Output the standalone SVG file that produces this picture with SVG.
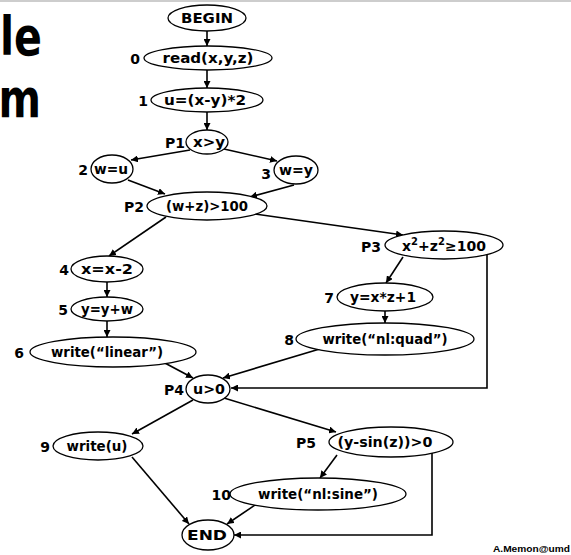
<svg xmlns="http://www.w3.org/2000/svg" width="571" height="555" viewBox="0 0 571 555">
  <defs>
    <marker id="arrow" viewBox="0 0 10 10" refX="10" refY="5" markerWidth="7" markerHeight="7" markerUnits="userSpaceOnUse" orient="auto">
      <path d="M0,0 L10,5 L0,10 z" fill="#000"/>
    </marker>
    <style>
      .node ellipse { fill: #fff; stroke: #000; stroke-width: 1.3; }
      .t { font-family: "DejaVu Sans", "Liberation Sans", sans-serif; font-weight: bold; font-size: 14px; fill: #000; text-anchor: middle; }
      .lbl { font-family: "DejaVu Sans", "Liberation Sans", sans-serif; font-weight: bold; font-size: 14px; fill: #000; text-anchor: end; }
      .title { font-family: "DejaVu Sans", "Liberation Sans", sans-serif; font-weight: bold; font-size: 54px; fill: #000; text-anchor: end; }
      #edges line, #edges polyline { stroke: #000; stroke-width: 1.6; fill: none; marker-end: url(#arrow); }
    </style>
  </defs>

  <rect width="571" height="555" fill="#fff"/>
  <line x1="0" y1="1" x2="571" y2="1" stroke="#bdbdbd" stroke-width="1.5"/>

  <!-- slide title fragments -->
  <text class="title" x="42" y="55" textLength="42" lengthAdjust="spacingAndGlyphs">le</text>
  <text class="title" x="41" y="117" textLength="70" lengthAdjust="spacingAndGlyphs">am</text>

  <!-- connectors -->
  <g id="edges">
    <line x1="207" y1="31" x2="207" y2="46"/>
    <line x1="207" y1="70" x2="207" y2="88"/>
    <line x1="207" y1="112" x2="207" y2="130"/>
    <line x1="190" y1="150" x2="131" y2="160"/>
    <line x1="224" y1="149" x2="277" y2="161"/>
    <line x1="128" y1="180" x2="165" y2="194"/>
    <line x1="294" y1="185" x2="250" y2="197"/>
    <line x1="255" y1="214" x2="403" y2="235"/>
    <line x1="166" y1="217" x2="109" y2="256"/>
    <line x1="107" y1="282" x2="107" y2="297"/>
    <line x1="107" y1="321" x2="107" y2="337"/>
    <line x1="403" y1="257" x2="386" y2="283"/>
    <line x1="385" y1="311" x2="385" y2="323"/>
    <polyline points="487,255 487,388 231,388"/>
    <line x1="163" y1="362" x2="193" y2="378"/>
    <line x1="323" y1="348" x2="223" y2="378"/>
    <line x1="193" y1="400" x2="132" y2="434"/>
    <line x1="224" y1="398" x2="336" y2="432"/>
    <line x1="337" y1="455" x2="320" y2="478"/>
    <polyline points="432,453 432,535 234,535"/>
    <line x1="132" y1="457" x2="189" y2="524"/>
    <line x1="258" y1="503" x2="227" y2="524"/>
  </g>

  <g id="begin" class="node">
    <ellipse cx="207" cy="18" rx="39" ry="13"/>
    <text class="t" x="207" y="23" textLength="52" lengthAdjust="spacingAndGlyphs">BEGIN</text>
  </g>
  <g id="n0" class="node">
    <ellipse cx="208" cy="58" rx="64" ry="12"/>
    <text class="lbl" x="140" y="64">0</text>
    <text class="t" x="208" y="63" textLength="91" lengthAdjust="spacingAndGlyphs">read(x,y,z)</text>
  </g>
  <g id="n1" class="node">
    <ellipse cx="207" cy="100" rx="56" ry="12"/>
    <text class="lbl" x="148" y="106">1</text>
    <text class="t" x="205" y="105" textLength="82" lengthAdjust="spacingAndGlyphs">u=(x-y)*2</text>
  </g>
  <g id="p1" class="node">
    <ellipse cx="207" cy="142" rx="21" ry="12"/>
    <text class="lbl" x="185" y="148">P1</text>
    <text class="t" x="209" y="147" textLength="32" lengthAdjust="spacingAndGlyphs">x&gt;y</text>
  </g>
  <g id="n2" class="node">
    <ellipse cx="112" cy="169" rx="21" ry="14"/>
    <text class="lbl" x="88" y="175">2</text>
    <text class="t" x="111" y="174" textLength="34" lengthAdjust="spacingAndGlyphs">w=u</text>
  </g>
  <g id="n3" class="node">
    <ellipse cx="296" cy="170" rx="22" ry="14"/>
    <text class="lbl" x="271" y="179">3</text>
    <text class="t" x="296" y="175" textLength="34" lengthAdjust="spacingAndGlyphs">w=y</text>
  </g>
  <g id="p2" class="node">
    <ellipse cx="207" cy="206" rx="60" ry="14"/>
    <text class="lbl" x="144" y="212">P2</text>
    <text class="t" x="207" y="211" textLength="82" lengthAdjust="spacingAndGlyphs">(w+z)&gt;100</text>
  </g>
  <g id="p3" class="node">
    <ellipse cx="444" cy="245" rx="59" ry="14"/>
    <text class="lbl" x="381" y="252">P3</text>
    <text class="t" x="444" y="251">x<tspan font-size="10" dy="-6">2</tspan><tspan dy="6">+z</tspan><tspan font-size="10" dy="-6">2</tspan><tspan dy="6">≥100</tspan></text>
  </g>
  <g id="n4" class="node">
    <ellipse cx="107" cy="269" rx="36" ry="13"/>
    <text class="lbl" x="69" y="275">4</text>
    <text class="t" x="107" y="274" textLength="52" lengthAdjust="spacingAndGlyphs">x=x-2</text>
  </g>
  <g id="n5" class="node">
    <ellipse cx="107" cy="309" rx="36" ry="12"/>
    <text class="lbl" x="68" y="315">5</text>
    <text class="t" x="107" y="314" textLength="52" lengthAdjust="spacingAndGlyphs">y=y+w</text>
  </g>
  <g id="n6" class="node">
    <ellipse cx="113" cy="352" rx="83" ry="15"/>
    <text class="lbl" x="24" y="358">6</text>
    <text class="t" x="107" y="357" textLength="112" lengthAdjust="spacingAndGlyphs">write(“linear”)</text>
  </g>
  <g id="n7" class="node">
    <ellipse cx="385" cy="297" rx="48" ry="14"/>
    <text class="lbl" x="334" y="303">7</text>
    <text class="t" x="383" y="302" textLength="66" lengthAdjust="spacingAndGlyphs">y=x*z+1</text>
  </g>
  <g id="n8" class="node">
    <ellipse cx="385" cy="339" rx="89" ry="16"/>
    <text class="lbl" x="294" y="345">8</text>
    <text class="t" x="385" y="344" textLength="125" lengthAdjust="spacingAndGlyphs">write(“nl:quad”)</text>
  </g>
  <g id="p4" class="node">
    <ellipse cx="208" cy="389" rx="22" ry="14"/>
    <text class="lbl" x="184" y="395">P4</text>
    <text class="t" x="209" y="394" textLength="32" lengthAdjust="spacingAndGlyphs">u&gt;0</text>
  </g>
  <g id="n9" class="node">
    <ellipse cx="98" cy="446" rx="45" ry="14"/>
    <text class="lbl" x="50" y="452">9</text>
    <text class="t" x="97" y="451" textLength="61" lengthAdjust="spacingAndGlyphs">write(u)</text>
  </g>
  <g id="p5" class="node">
    <ellipse cx="391" cy="442" rx="62" ry="15"/>
    <text class="lbl" x="316" y="448">P5</text>
    <text class="t" x="385" y="447" textLength="95" lengthAdjust="spacingAndGlyphs">(y-sin(z))&gt;0</text>
  </g>
  <g id="n10" class="node">
    <ellipse cx="318" cy="494" rx="88" ry="16"/>
    <text class="lbl" x="231" y="500">10</text>
    <text class="t" x="318" y="499" textLength="120" lengthAdjust="spacingAndGlyphs">write(“nl:sine”)</text>
  </g>
  <g id="end" class="node">
    <ellipse cx="208" cy="535" rx="26" ry="15"/>
    <text class="t" x="207" y="540" textLength="40" lengthAdjust="spacingAndGlyphs">END</text>
  </g>

  <text x="570" y="552" font-family="'Liberation Sans', Arial, sans-serif" font-weight="bold" font-size="9" text-anchor="end" textLength="77" lengthAdjust="spacingAndGlyphs">A.Memon@umd</text>
</svg>
